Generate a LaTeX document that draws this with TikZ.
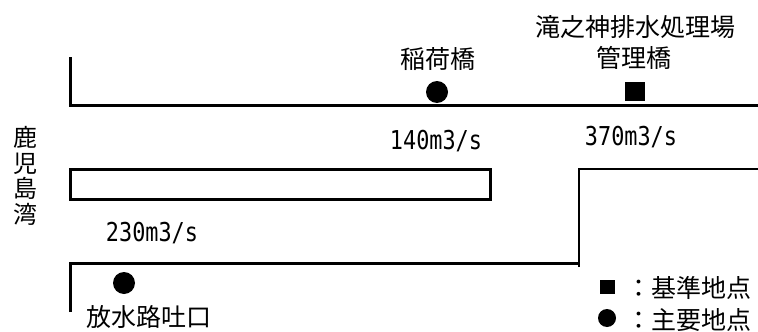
\documentclass[tikz,border=0pt]{standalone}
\usepackage{fontspec}
\setmainfont{Noto Sans CJK JP}
\newfontfamily\numfont{DejaVu Sans Mono}
\begin{document}
\begin{tikzpicture}[x=1pt,y=-1pt,
  jp/.style={font=\fontsize{25}{24}\selectfont, inner sep=0pt},
  num/.style={font=\fontsize{26}{26}\numfont, inner sep=0pt},
  bank/.style={line width=3pt},
  dot/.style={circle, fill=black, minimum size=22pt, inner sep=0pt},
  sq/.style={rectangle, fill=black, minimum width=20pt, minimum height=19pt, inner sep=0pt}]
\useasboundingbox (0,0) rectangle (758,332);
% banks
\draw[bank] (70,57) -- (70,105) -- (758,105);
\draw[bank] (70,169) rectangle (490,199);
\draw[bank] (70,312) -- (70,263) -- (579,263);
\draw[line width=2.5pt] (579,267) -- (579,169) -- (758,169);
% bay label
\node[inner sep=0pt, font=\fontsize{24}{25.5}\selectfont, align=center] (bay) at (25,176) {鹿\\児\\島\\湾};
% markers
\node[dot] (inari) at (437,92) {};
\node[sq] (takino) at (635,91) {};
\node[dot] (outlet) at (124,283) {};
% labels
\node[jp] (inaril) at (438,59) {稲荷橋};
\node[jp] (takinol1) at (635,27) {滝之神排水処理場};
\node[jp] (takinol2) at (634,58) {管理橋};
\node[jp] (outletl) at (149,317) {放水路吐口};
\node[num] (q1) at (436,141) {\scalebox{0.84}[1]{140m3/s}};
\node[num] (q2) at (631,137) {\scalebox{0.84}[1]{370m3/s}};
\node[num] (q3) at (152,233) {\scalebox{0.84}[1]{230m3/s}};
% legend
\node[sq, minimum width=15pt, minimum height=14pt] (lg1) at (607,287) {};
\node[jp, anchor=west] (lg1t) at (626,288) {：基準地点};
\node[dot, minimum size=18pt] (lg2) at (607,318) {};
\node[jp, anchor=west] (lg2t) at (626,320) {：主要地点};
\end{tikzpicture}
\end{document}
